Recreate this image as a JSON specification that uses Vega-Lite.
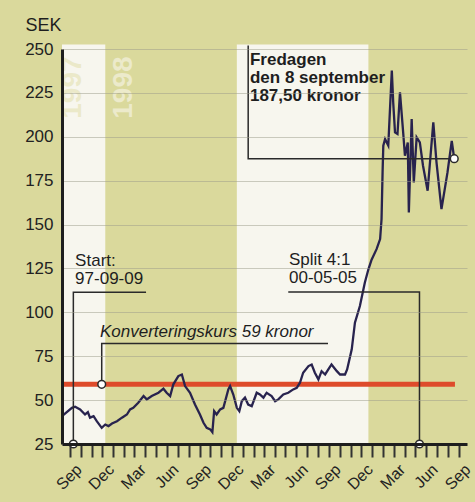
{
  "$schema": "https://vega.github.io/schema/vega-lite/v6.json",
  "width": 405,
  "height": 395,
  "autosize": "none",
  "padding": {"left": 62, "top": 49, "right": 8, "bottom": 58},
  "background": "#dad99c",
  "config": {"font": "Liberation Sans", "view": {"stroke": null}},
  "datasets": {
    "bands": [
      {"date": "1997-08-09", "date2": "1997-12-09", "value": 252.5, "value2": 25},
      {"date": "1998-12-15", "date2": "1999-12-21", "value": 252.5, "value2": 25}
    ],
    "years": [
      {"date": "1997-09-09", "value": 228, "label": "1997", "c": "a"},
      {"date": "1998-01-31", "value": 228, "label": "1998", "c": "b"}
    ],
    "conv": [
      {"date": "1997-08-09", "date2": "2000-08-21", "value": 59}
    ],
    "price": [
      {"date": "1997-08-09", "value": 40.9},
      {"date": "1997-09-06", "value": 45.6},
      {"date": "1997-09-15", "value": 46.2},
      {"date": "1997-09-29", "value": 44.7},
      {"date": "1997-10-13", "value": 41.8},
      {"date": "1997-10-21", "value": 43.1},
      {"date": "1997-10-27", "value": 40.0},
      {"date": "1997-11-06", "value": 40.9},
      {"date": "1997-11-15", "value": 38.0},
      {"date": "1997-11-29", "value": 34.2},
      {"date": "1997-12-09", "value": 36.1},
      {"date": "1997-12-18", "value": 35.2},
      {"date": "1997-12-28", "value": 36.7},
      {"date": "1998-01-11", "value": 38.0},
      {"date": "1998-01-25", "value": 40.0},
      {"date": "1998-02-08", "value": 41.8},
      {"date": "1998-02-17", "value": 44.7},
      {"date": "1998-02-26", "value": 45.6},
      {"date": "1998-03-12", "value": 48.5},
      {"date": "1998-03-27", "value": 52.3},
      {"date": "1998-04-05", "value": 50.4},
      {"date": "1998-04-19", "value": 52.3},
      {"date": "1998-05-08", "value": 54.2},
      {"date": "1998-05-22", "value": 56.5},
      {"date": "1998-05-31", "value": 54.2},
      {"date": "1998-06-10", "value": 52.3},
      {"date": "1998-06-19", "value": 59.0},
      {"date": "1998-07-03", "value": 63.7},
      {"date": "1998-07-13", "value": 64.6},
      {"date": "1998-07-22", "value": 58.0},
      {"date": "1998-08-05", "value": 54.2},
      {"date": "1998-08-19", "value": 47.5},
      {"date": "1998-09-02", "value": 41.8},
      {"date": "1998-09-12", "value": 37.1},
      {"date": "1998-09-21", "value": 34.2},
      {"date": "1998-10-01", "value": 33.3},
      {"date": "1998-10-07", "value": 31.7},
      {"date": "1998-10-12", "value": 43.7},
      {"date": "1998-10-19", "value": 41.8},
      {"date": "1998-10-29", "value": 44.7},
      {"date": "1998-11-07", "value": 45.6},
      {"date": "1998-11-21", "value": 56.1},
      {"date": "1998-11-26", "value": 58.0},
      {"date": "1998-12-05", "value": 53.2},
      {"date": "1998-12-15", "value": 45.6},
      {"date": "1998-12-22", "value": 43.7},
      {"date": "1998-12-29", "value": 49.4},
      {"date": "1999-01-07", "value": 51.4},
      {"date": "1999-01-16", "value": 47.5},
      {"date": "1999-01-26", "value": 46.6},
      {"date": "1999-02-09", "value": 54.2},
      {"date": "1999-02-18", "value": 53.2},
      {"date": "1999-02-28", "value": 51.4},
      {"date": "1999-03-09", "value": 54.2},
      {"date": "1999-03-23", "value": 52.3},
      {"date": "1999-04-02", "value": 49.4},
      {"date": "1999-04-11", "value": 50.4},
      {"date": "1999-04-25", "value": 53.2},
      {"date": "1999-05-09", "value": 54.2},
      {"date": "1999-05-23", "value": 56.1},
      {"date": "1999-06-02", "value": 57.0},
      {"date": "1999-06-11", "value": 59.9},
      {"date": "1999-06-20", "value": 65.6},
      {"date": "1999-07-05", "value": 69.4},
      {"date": "1999-07-14", "value": 70.3},
      {"date": "1999-07-23", "value": 65.6},
      {"date": "1999-08-02", "value": 61.8},
      {"date": "1999-08-11", "value": 66.5},
      {"date": "1999-08-21", "value": 64.6},
      {"date": "1999-08-30", "value": 67.5},
      {"date": "1999-09-08", "value": 70.3},
      {"date": "1999-09-23", "value": 66.5},
      {"date": "1999-10-02", "value": 64.6},
      {"date": "1999-10-16", "value": 64.6},
      {"date": "1999-10-22", "value": 67.5},
      {"date": "1999-11-04", "value": 78.9},
      {"date": "1999-11-13", "value": 94.1},
      {"date": "1999-11-27", "value": 103.6},
      {"date": "1999-12-11", "value": 117.0},
      {"date": "1999-12-21", "value": 124.5},
      {"date": "1999-12-30", "value": 130.0},
      {"date": "2000-01-13", "value": 136.0},
      {"date": "2000-01-23", "value": 141.7},
      {"date": "2000-01-27", "value": 153.0},
      {"date": "2000-01-30", "value": 180.0},
      {"date": "2000-02-01", "value": 194.9},
      {"date": "2000-02-06", "value": 198.7},
      {"date": "2000-02-10", "value": 197.0},
      {"date": "2000-02-15", "value": 195.0},
      {"date": "2000-02-25", "value": 237.7},
      {"date": "2000-02-29", "value": 219.3},
      {"date": "2000-03-05", "value": 202.5},
      {"date": "2000-03-12", "value": 201.6},
      {"date": "2000-03-19", "value": 225.3},
      {"date": "2000-03-28", "value": 202.5},
      {"date": "2000-04-02", "value": 189.2},
      {"date": "2000-04-10", "value": 196.8},
      {"date": "2000-04-13", "value": 156.9},
      {"date": "2000-04-21", "value": 210.1},
      {"date": "2000-04-27", "value": 174.0},
      {"date": "2000-05-05", "value": 199.7},
      {"date": "2000-05-14", "value": 196.8},
      {"date": "2000-05-23", "value": 183.5},
      {"date": "2000-06-05", "value": 169.3},
      {"date": "2000-06-21", "value": 208.2},
      {"date": "2000-06-30", "value": 185.4},
      {"date": "2000-07-14", "value": 158.8},
      {"date": "2000-07-31", "value": 179.7},
      {"date": "2000-08-12", "value": 197.7},
      {"date": "2000-08-19", "value": 187.5}
    ],
    "brackets": [
      {"ann": "start", "seq": 1, "date": "1997-09-10", "value": 25},
      {"ann": "start", "seq": 2, "date": "1997-09-10", "value": 111.4},
      {"ann": "start", "seq": 3, "date": "1998-04-03", "value": 111.4},
      {"ann": "konv", "seq": 1, "date": "1997-11-29", "value": 59},
      {"ann": "konv", "seq": 2, "date": "1997-11-29", "value": 82.2},
      {"ann": "konv", "seq": 3, "date": "1999-08-29", "value": 82.2},
      {"ann": "split", "seq": 1, "date": "1999-05-09", "value": 111.6},
      {"ann": "split", "seq": 2, "date": "2000-05-13", "value": 111.6},
      {"ann": "split", "seq": 3, "date": "2000-05-13", "value": 25},
      {"ann": "fred", "seq": 1, "date": "1999-01-16", "value": 252},
      {"ann": "fred", "seq": 2, "date": "1999-01-16", "value": 187.5},
      {"ann": "fred", "seq": 3, "date": "2000-08-19", "value": 187.5}
    ],
    "dots": [
      {"date": "1997-09-10", "value": 25},
      {"date": "1997-11-29", "value": 59},
      {"date": "2000-05-13", "value": 25},
      {"date": "2000-08-19", "value": 187.5}
    ],
    "textsRegular": [
      {"date": "1997-09-15", "value": 126.4, "label": "Start:\n97-09-09"},
      {"date": "1999-05-11", "value": 126.8, "label": "Split 4:1\n00-05-05"}
    ],
    "textsItalic": [
      {"date": "1997-11-24", "value": 86.2, "label": "Konverteringskurs 59 kronor"}
    ],
    "textsBold": [
      {"date": "1999-01-21", "value": 240.9, "label": "Fredagen\nden 8 september\n187,50 kronor"}
    ]
  },
  "encoding": {
    "x": {
      "field": "date",
      "type": "temporal",
      "scale": {"domain": [{"year": 1997, "month": "aug", "date": 9}, {"year": 2000, "month": "sep", "date": 24}]},
      "axis": {
        "title": null,
        "grid": false,
        "zindex": 1,
        "tickCount": {"interval": "month", "step": 1},
        "labelExpr": "month(datum.value) % 3 == 2 ? timeFormat(datum.value, '%b') : ''",
        "labelOverlap": false,
        "labelFlush": false,
        "labelBound": false,
        "labelAngle": -45,
        "labelFontSize": 16,
        "labelColor": "#222222",
        "labelPadding": 4,
        "labelOffset": 3,
        "tickSize": 13,
        "tickWidth": 2,
        "tickColor": "#333333",
        "domainColor": "#1e1e1e",
        "domainWidth": 3
      }
    },
    "y": {
      "field": "value",
      "type": "quantitative",
      "scale": {"domain": [25, 250], "nice": false, "zero": false},
      "axis": {
        "values": [25, 50, 75, 100, 125, 150, 175, 200, 225, 250],
        "zindex": 1,
        "grid": true,
        "gridColor": "#9c9c8a",
        "gridOpacity": 0.5,
        "gridWidth": 1,
        "tickSize": 0,
        "labelPadding": 9,
        "labelFontSize": 17,
        "labelColor": "#222222",
        "domainColor": "#1e1e1e",
        "domainWidth": 3,
        "title": "SEK",
        "titleAngle": 0,
        "titleAlign": "left",
        "titleBaseline": "alphabetic",
        "titleX": -37,
        "titleY": -19,
        "titleFontSize": 18,
        "titleFontWeight": "normal",
        "titleColor": "#1e1e1e"
      }
    }
  },
  "layer": [
    {
      "data": {"name": "bands"},
      "mark": {"type": "rect", "fill": "#f7f6ee", "stroke": null},
      "encoding": {
        "x2": {"field": "date2"},
        "y2": {"field": "value2"}
      }
    },
    {
      "data": {"name": "years"},
      "mark": {"type": "text", "angle": 270, "fontSize": 28, "fontWeight": "bold", "align": "center", "baseline": "middle"},
      "encoding": {
        "text": {"field": "label"},
        "color": {"field": "c", "type": "nominal", "scale": {"domain": ["a", "b"], "range": ["#ebe9c9", "#eceacb"]}, "legend": null}
      }
    },
    {
      "data": {"name": "conv"},
      "mark": {"type": "rule", "color": "#de4b2b", "strokeWidth": 5},
      "encoding": {"x2": {"field": "date2"}}
    },
    {
      "data": {"name": "price"},
      "mark": {"type": "line", "color": "#28234e", "strokeWidth": 2.3},
      "encoding": {}
    },
    {
      "data": {"name": "brackets"},
      "mark": {"type": "line", "color": "#2a2a2a", "strokeWidth": 1.5},
      "encoding": {
        "detail": {"field": "ann", "type": "nominal"},
        "order": {"field": "seq", "type": "quantitative"}
      }
    },
    {
      "data": {"name": "dots"},
      "mark": {"type": "point", "filled": true, "fill": "#ffffff", "stroke": "#2a2a2a", "strokeWidth": 1.5, "size": 60, "opacity": 1}
    },
    {
      "data": {"name": "textsRegular"},
      "mark": {"type": "text", "align": "left", "baseline": "alphabetic", "fontSize": 17, "lineBreak": "\n", "lineHeight": 18, "color": "#1e1e1e"},
      "encoding": {"text": {"field": "label"}}
    },
    {
      "data": {"name": "textsItalic"},
      "mark": {"type": "text", "align": "left", "baseline": "alphabetic", "fontSize": 17, "fontStyle": "italic", "color": "#1e1e1e"},
      "encoding": {"text": {"field": "label"}}
    },
    {
      "data": {"name": "textsBold"},
      "mark": {"type": "text", "align": "left", "baseline": "alphabetic", "fontSize": 17, "fontWeight": "bold", "lineBreak": "\n", "lineHeight": 18, "color": "#1e1e1e"},
      "encoding": {"text": {"field": "label"}}
    }
  ]
}
